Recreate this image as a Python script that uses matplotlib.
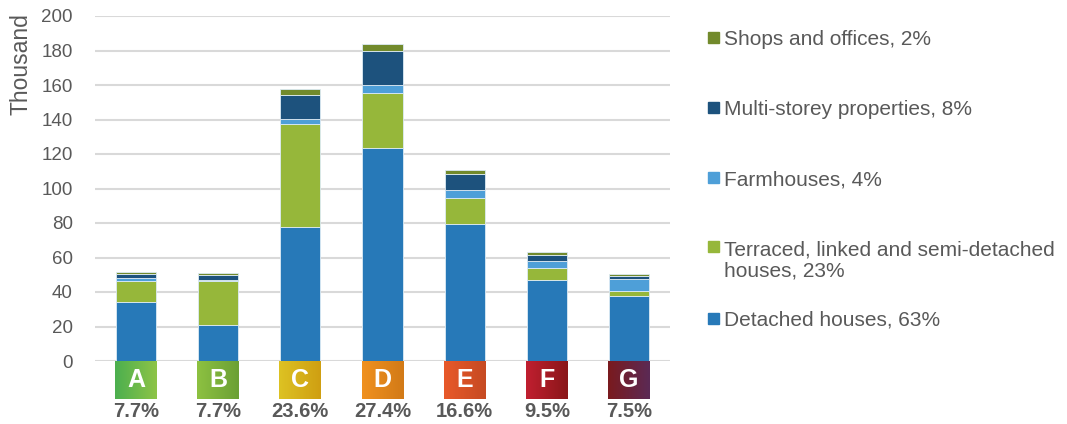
import numpy as np
import matplotlib
matplotlib.use("Agg")
import matplotlib.pyplot as plt
from matplotlib.colors import LinearSegmentedColormap
from matplotlib.patches import Rectangle

plt.rcParams['font.family'] = ['Liberation Sans', 'DejaVu Sans']

# energy classes and their share of buildings
classes = ['A', 'B', 'C', 'D', 'E', 'F', 'G']
class_share = ['7.7%', '7.7%', '23.6%', '27.4%', '16.6%', '9.5%', '7.5%']

# thousands of buildings per class, by type
detached = [34.4, 20.8, 77.8, 123.6, 79.3, 47.1, 37.8]
terraced = [12.1, 25.3, 59.8, 31.8, 15.3, 6.6, 2.9]
farmhouses = [1.4, 0.8, 2.6, 4.8, 4.4, 4.0, 6.8]
multistorey = [2.5, 2.9, 14.0, 19.3, 9.5, 3.9, 1.5]
shops = [1.3, 1.4, 3.7, 4.5, 2.5, 1.7, 1.2]

series = [
    ('Detached houses, 63%', detached, '#2779B8'),
    ('Terraced, linked and semi-detached\nhouses, 23%', terraced, '#96B73A'),
    ('Farmhouses, 4%', farmhouses, '#4E9FD8'),
    ('Multi-storey properties, 8%', multistorey, '#1D527D'),
    ('Shops and offices, 2%', shops, '#728A2C'),
]

# gradient colours of the class badges (left, right)
badge_colors = [
    ('#4CAF4F', '#8DC447'),
    ('#8DC141', '#6BA035'),
    ('#DDC223', '#CF9F12'),
    ('#F0911F', '#D27A17'),
    ('#E8592A', '#C64A22'),
    ('#C01F30', '#8A1619'),
    ('#7A1A1E', '#5B2A55'),
]

grey = '#595959'

fig = plt.figure(figsize=(10.67, 4.24), dpi=100)
ax = fig.add_axes([95 / 1067, 1 - 361 / 424, 575 / 1067, 345 / 424])

x = np.arange(len(classes))
bottom = np.zeros(len(classes))
for label, vals, col in series:
    ax.bar(x, vals, 0.49, bottom=bottom, color=col, edgecolor='#DDEBF5',
           linewidth=0.6, zorder=3)
    bottom += np.array(vals)

ax.set_xlim(-0.5, 6.5)
ax.set_ylim(0, 200)
ax.set_yticks(range(0, 201, 20))
ax.grid(axis='y', color='#D9D9D9', linewidth=1.5, zorder=0)
for s in ax.spines.values():
    s.set_visible(False)
ax.tick_params(axis='y', length=0, pad=16, labelsize=13.5, labelcolor=grey)
ax.set_xticks([])
ax.set_ylabel('Thousand', fontsize=16.5, color=grey)
ax.yaxis.set_label_coords(-0.108, 0.86)

# class badges below the axis
grad = np.linspace(0, 1, 64).reshape(1, -1)
for i, (c, (c1, c2)) in enumerate(zip(classes, badge_colors)):
    cm = LinearSegmentedColormap.from_list(c, [c1, c2])
    ax.imshow(grad, cmap=cm, extent=(i - 0.255, i + 0.255, -22.3, -0.4),
              aspect='auto', clip_on=False, zorder=4)
    ax.text(i, -11.3, c, ha='center', va='center', color='white',
            fontsize=18, fontweight='bold', clip_on=False, zorder=5)
    ax.text(i, -29.5, class_share[i], ha='center', va='center', color=grey,
            fontsize=14.5, fontweight='bold', clip_on=False)
ax.set_xlim(-0.5, 6.5)
ax.set_ylim(0, 200)

# legend on the right
leg_y = [318, 247, 177, 107, 37]
for (label, vals, col), yp in zip(series, leg_y):
    fy = 1 - yp / 424
    fig.patches.append(Rectangle((708 / 1067, fy - 5.5 / 424), 11 / 1067, 11 / 424,
                                 transform=fig.transFigure, color=col))
    fig.text(724 / 1067, fy + 7 / 424, label, ha='left', va='top',
             fontsize=15, color=grey, linespacing=1.15)

fig.savefig('out.png', dpi=100)
